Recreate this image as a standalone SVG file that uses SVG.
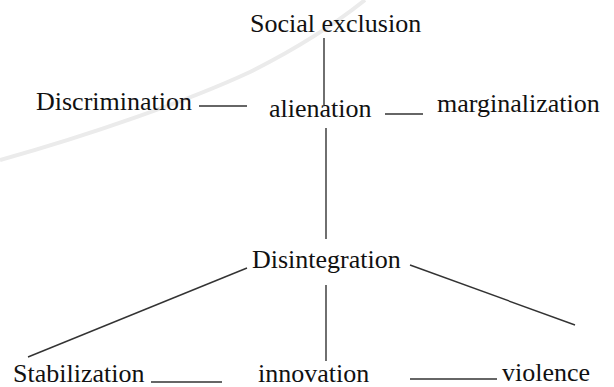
<svg xmlns="http://www.w3.org/2000/svg" width="614" height="387" viewBox="0 0 614 387">
<style>
.t{font-family:"Liberation Serif","Times New Roman",serif;font-size:26px;fill:#111}
.c line{stroke:#333;stroke-width:1.4;stroke-linecap:butt}
</style>
<rect width="614" height="387" fill="#fff"/>
<path d="M0,160 C90,135 190,100 250,72 C290,52 330,28 365,0" fill="none" stroke="#ebebeb" stroke-width="4"/>
<g class="c" id="connectors">
<line x1="324" y1="38" x2="324" y2="105"/>
<line x1="326" y1="128" x2="326" y2="239"/>
<line x1="199" y1="106" x2="247" y2="106"/>
<line x1="385" y1="114" x2="423" y2="114"/>
<line x1="247" y1="268" x2="28" y2="357"/>
<line x1="410" y1="265" x2="575" y2="325"/>
<line x1="326" y1="285" x2="326" y2="361"/>
<line x1="151" y1="382" x2="222" y2="382"/>
<line x1="410" y1="379" x2="497" y2="379"/>
</g>
<g id="social-exclusion"><text class="t" x="250" y="32">Social exclusion</text></g>
<g id="discrimination"><text class="t" x="36" y="110">Discrimination</text></g>
<g id="alienation"><text class="t" x="269" y="117">alienation</text></g>
<g id="marginalization"><text class="t" x="437" y="112">marginalization</text></g>
<g id="disintegration"><text class="t" x="252" y="268">Disintegration</text></g>
<g id="stabilization"><text class="t" x="13" y="382">Stabilization</text></g>
<g id="innovation"><text class="t" x="258" y="382">innovation</text></g>
<g id="violence"><text class="t" x="502" y="381">violence</text></g>
</svg>
